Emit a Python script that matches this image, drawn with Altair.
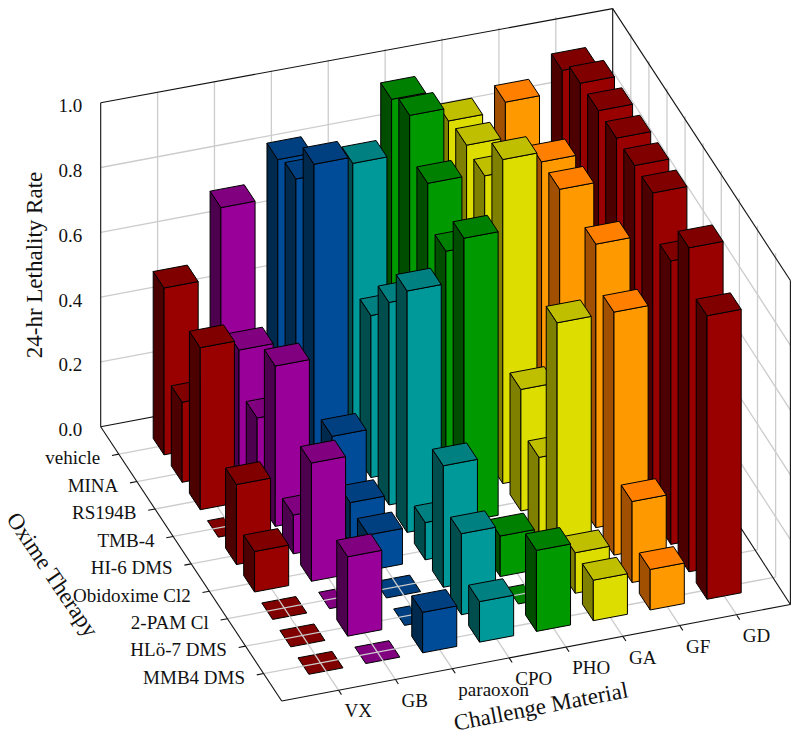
import altair as alt
import pandas as pd

materials = ["VX", "GB", "paraoxon", "CPO", "PHO", "GA", "GF", "GD"]
therapies = ["vehicle", "MINA", "RS194B", "TMB-4", "HI-6 DMS", "Obidoxime Cl2",
             "2-PAM Cl", "HLö-7 DMS", "MMB4 DMS"]
z_ticks = [0.0, 0.2, 0.4, 0.6, 0.8, 1.0]

VX = [0.515, 0.247, 0.50, 0.0, 0.247, 0.125, 0.0, 0.0, 0.0]
GB = [0.73, 0.375, 0.25, 0.495, 0.12, 0.365, 0.0, 0.245, 0.0]
paraoxon = [0.845, 0.87, 1.0, 0.245, 0.125, 0.11, 0.0, 0.0, 0.125]
CPO = [0.75, 0.885, 0.50, 0.625, 0.745, 0.115, 0.375, 0.25, 0.125]
PHO = [0.965, 1.0, 0.875, 0.75, 0.875, 0.0, 0.125, 0.0, 0.25]
GA = [0.865, 0.875, 0.865, 1.0, 0.375, 0.25, 0.75, 0.125, 0.125]
GF = [0.89, 0.75, 0.875, 0.875, 0.5, 0.875, 0.75, 0.25, 0.125]
GD = [0.955, 1.0, 1.0, 1.0, 1.0, 1.0, 0.875, 1.0, 0.875]
series = [VX, GB, paraoxon, CPO, PHO, GA, GF, GD]

front_colors = ["#990000", "#990099", "#004c99", "#009999", "#009900", "#dddd00", "#ff9900", "#990000"]
top_colors = ["#800000", "#800080", "#004080", "#008080", "#008000", "#bfbf00", "#ff8000", "#800000"]
side_colors = ["#4d0000", "#4d004d", "#002a4d", "#004d4d", "#004d00", "#808000", "#a05000", "#4d0000"]

FONT = "Liberation Serif"
NU, NV = 9.0, 10.0
HALF = 0.3
W, H = 783, 724


def project(u, v, z):
    """Oblique projection of (material slot, therapy slot, rate) onto the page."""
    return (100.7 + 512.0 * u / NU + 181.0 * v / NV,
            426.7 - 96.5 * u / NU + 274.3 * v / NV - 324.0 * z)


def poly_rows(pts, fill, pid):
    rows = []
    for k, (u, v, z) in enumerate(pts):
        x, y = project(u, v, z)
        rows.append({"x": x, "y": y, "k": k, "id": pid, "fill": fill})
    return rows


flat_rows, bar_rows = [], []
pid = 0
for i in range(len(materials) - 1, -1, -1):
    for j in range(len(therapies)):
        u, v, z = i + 1, j + 1, series[i][j]
        a, b = u - HALF, u + HALF
        c, d = v - HALF, v + HALF
        top = [(a, c, z), (b, c, z), (b, d, z), (a, d, z)]
        if z == 0:
            flat_rows += poly_rows(top, top_colors[i], pid)
            pid += 1
            continue
        bar_rows += poly_rows([(a, c, 0), (a, d, 0), (a, d, z), (a, c, z)], side_colors[i], pid)
        pid += 1
        bar_rows += poly_rows([(a, d, 0), (b, d, 0), (b, d, z), (a, d, z)], front_colors[i], pid)
        pid += 1
        bar_rows += poly_rows(top, top_colors[i], pid)
        pid += 1


def seg_rows(segments):
    rows = []
    for n, (p, q) in enumerate(segments):
        for k, pt in enumerate((p, q)):
            x, y = project(*pt)
            # keep the box's outermost corners just inside the drawing surface
            rows.append({"x": min(x, 8 + W - 0.6), "y": max(y, 8.6), "k": k, "id": n})
    return rows


grid = []
for k in range(1, 9):
    grid.append(((k, 0, 0), (k, NV, 0)))
    grid.append(((k, 0, 0), (k, 0, 1)))
for k in range(1, 10):
    grid.append(((0, k, 0), (NU, k, 0)))
    grid.append(((NU, k, 0), (NU, k, 1)))
for t in z_ticks[1:-1]:
    grid.append(((0, 0, t), (NU, 0, t)))
    grid.append(((NU, 0, t), (NU, NV, t)))

frame = [
    ((0, 0, 0), (0, 0, 1)), ((0, 0, 1), (NU, 0, 1)), ((NU, 0, 1), (NU, 0, 0)),
    ((NU, 0, 1), (NU, NV, 1)), ((NU, NV, 1), (NU, NV, 0)),
    ((0, 0, 0), (NU, 0, 0)), ((NU, 0, 0), (NU, NV, 0)),
    ((NU, NV, 0), (0, NV, 0)), ((0, NV, 0), (0, 0, 0)),
]
for k in range(1, 9):
    frame.append(((k, NV, 0), (k, NV + 0.16, 0)))
for k in range(1, 10):
    frame.append(((0, k, 0), (-0.12, k, 0)))

label_rows = {"z": [], "t": [], "m": []}
for t in z_ticks:
    x, y = project(0, 0, t)
    label_rows["z"].append({"x": x - 18.5, "y": y + 3.5, "label": f"{t:.1f}"})
for k, name in enumerate(therapies, 1):
    x, y = project(0, k, 0)
    label_rows["t"].append({"x": x - 18.6, "y": y + 4.3, "label": name})
for k, name in enumerate(materials, 1):
    x, y = project(k, NV, 0)
    label_rows["m"].append({"x": x + 6, "y": y + 21, "label": name})

X = alt.X("x:Q", scale=alt.Scale(domain=[8, 8 + W], nice=False, zero=False), axis=None)
Y = alt.Y("y:Q", scale=alt.Scale(domain=[8 + H, 8], nice=False, zero=False), axis=None)


def polys(rows):
    return alt.Chart(pd.DataFrame(rows)).mark_line(
        interpolate="linear-closed", stroke="black", strokeWidth=1, strokeJoin="round"
    ).encode(
        x=X, y=Y, detail="id:N", order="k:Q",
        fill=alt.Fill("fill:N", scale=None),
    )


def lines(rows, color, width):
    return alt.Chart(pd.DataFrame(rows)).mark_line(color=color, strokeWidth=width).encode(
        x=X, y=Y, detail="id:N", order="k:Q"
    )


def labels(rows, align, size=19, angle=0):
    return alt.Chart(pd.DataFrame(rows)).mark_text(
        font=FONT, fontSize=size, align=align, baseline="middle", angle=angle, color="#111111"
    ).encode(x=X, y=Y, text="label:N")


titles = [
    labels([{"x": 35, "y": 265, "label": "24-hr Lethality Rate"}], "center", 23, 270),
    labels([{"x": 52, "y": 575, "label": "Oxime Therapy"}], "center", 23, 56),
    labels([{"x": 541, "y": 707, "label": "Challenge Material"}], "center", 23, 349),
]

chart = alt.layer(
    polys(flat_rows),
    lines(seg_rows(grid), "#cccccc", 1.3),
    lines(seg_rows(frame), "#111111", 1.1),
    polys(bar_rows),
    labels(label_rows["z"], "right"),
    labels(label_rows["t"], "right"),
    labels(label_rows["m"], "left"),
    *titles,
).properties(width=W, height=H, padding=0, background="white",
             autosize=alt.AutoSizeParams(type="none")).configure_view(stroke=None)

chart.save("out.html", embed_options={"renderer": "svg", "actions": False})
